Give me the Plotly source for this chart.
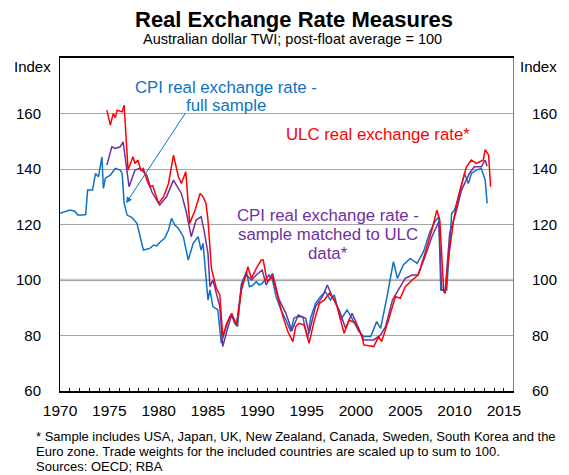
import plotly.graph_objects as go

# ---- data ----
cpi_full_year = [1970.0, 1970.5, 1971.0, 1971.5, 1971.8, 1972.3, 1972.6, 1972.8, 1973.3, 1973.6,
                 1973.9, 1974.25, 1974.4, 1974.6, 1975.1, 1975.6, 1976.1, 1976.3, 1976.5, 1976.8,
                 1977.3, 1977.8, 1978.45, 1979.1, 1979.5, 1979.8, 1980.1, 1980.6, 1981.0, 1981.3,
                 1981.6, 1982.0, 1982.5, 1983.0, 1983.5, 1984.0, 1984.3, 1984.5, 1985.0, 1985.2,
                 1985.5, 1986.0, 1986.35, 1986.7, 1987.2, 1987.4, 1987.7, 1988.0, 1988.4, 1988.9,
                 1989.2, 1989.5, 1989.9, 1990.2, 1990.5, 1991.2, 1991.5, 1991.9, 1992.4, 1992.9,
                 1993.4, 1993.7, 1994.0, 1994.6, 1995.1, 1995.4, 1995.9, 1996.4, 1996.9, 1997.4,
                 1997.8, 1998.45, 1999.1, 1999.6, 2000.3, 2000.8, 2001.5, 2002.1, 2002.5, 2003.15,
                 2003.8, 2004.2, 2004.8, 2005.5, 2006.2, 2006.85, 2007.5, 2008.0, 2008.4, 2008.6,
                 2009.2, 2009.7, 2010.0, 2010.5, 2011.0, 2011.4, 2011.7, 2012.2, 2012.7, 2013.1,
                 2013.3]
cpi_full = [124.0, 124.6, 125.2, 124.8, 123.4, 123.4, 123.6, 132.4, 132.4, 138.4,
            137.2, 144.4, 133.0, 136.7, 137.8, 140.2, 139.6, 138.5, 127.7, 123.4,
            122.5, 120.4, 110.8, 111.4, 112.6, 112.3, 113.5, 115.0, 118.0, 122.2,
            120.0, 118.6, 115.6, 107.2, 113.2, 115.6, 110.8, 113.2, 92.8, 96.4,
            90.4, 89.2, 77.2, 81.4, 86.8, 87.4, 84.4, 83.2, 98.8, 103.0,
            97.6, 98.0, 99.4, 98.2, 98.8, 101.8, 100.6, 94.0, 89.2, 85.6,
            81.4, 86.2, 86.8, 86.8, 79.0, 86.2, 91.6, 94.0, 95.8, 92.8,
            94.6, 85.6, 89.2, 86.2, 81.4, 79.6, 79.6, 85.0, 82.6, 94.0,
            106.6, 100.6, 105.4, 107.8, 106.0, 110.2, 117.4, 121.0, 122.8, 96.4,
            96.4, 124.0, 125.2, 131.2, 138.4, 134.8, 138.4, 139.6, 140.2, 136.0,
            127.6]

ulc_year = [1974.75, 1975.1, 1975.4, 1975.6, 1975.8, 1976.3, 1976.5, 1976.9, 1977.4, 1977.6,
            1977.9, 1978.2, 1978.45, 1978.8, 1979.1, 1979.4, 1979.6, 1980.0, 1980.5, 1981.0,
            1981.5, 1982.0, 1982.3, 1982.75, 1983.15, 1983.7, 1984.2, 1984.5, 1984.8, 1985.0,
            1985.35, 1985.85, 1986.2, 1986.5, 1986.9, 1987.4, 1987.9, 1988.4, 1989.05, 1989.4,
            1989.9, 1990.4, 1990.6, 1991.0, 1991.55, 1992.05, 1992.6, 1993.1, 1993.6, 1993.9,
            1994.2, 1994.75, 1995.25, 1995.75, 1996.3, 1996.8, 1997.3, 1997.8, 1998.1, 1998.8,
            1999.3, 2000.0, 2000.6, 2000.8, 2001.8, 2002.3, 2002.6, 2003.3, 2004.0, 2004.5,
            2005.0, 2005.7, 2006.3, 2007.0, 2007.7, 2008.2, 2008.5, 2008.9, 2009.05, 2009.4,
            2009.9, 2010.4, 2010.8, 2011.2, 2011.7, 2012.2, 2012.55, 2012.9, 2013.1, 2013.45,
            2013.65]
ulc = [161.2, 155.8, 160.0, 158.5, 161.2, 160.6, 163.0, 139.6, 144.4, 142.0,
       143.2, 139.5, 140.2, 136.0, 133.6, 134.0, 131.8, 127.6, 130.0, 134.8,
       145.0, 137.2, 134.8, 139.0, 120.4, 125.2, 131.2, 130.0, 127.6, 121.6,
       104.2, 97.0, 94.6, 79.6, 84.4, 88.0, 83.8, 96.4, 104.8, 100.6,
       104.2, 107.2, 107.2, 99.5, 101.2, 94.0, 86.8, 81.4, 77.8, 83.2,
       84.4, 83.8, 77.2, 85.0, 91.6, 92.8, 95.2, 92.8, 90.4, 80.8,
       85.6, 84.4, 79.6, 76.6, 76.0, 79.6, 77.8, 85.6, 94.0, 93.4,
       97.6, 100.0, 101.8, 109.6, 118.0, 125.2, 121.6, 95.8, 95.2, 108.4,
       121.6, 130.5, 136.0, 140.8, 143.2, 142.0, 142.6, 143.2, 147.0, 145.0,
       133.6]

cpi_matched_year = [1974.75, 1975.25, 1975.6, 1976.1, 1976.4, 1977.0, 1977.6, 1978.1, 1978.8, 1979.3,
                    1980.1, 1980.8, 1981.5, 1982.3, 1982.8, 1983.3, 1983.8, 1984.3, 1984.6, 1985.0,
                    1985.2, 1985.5, 1986.2, 1986.5, 1986.9, 1987.4, 1987.9, 1988.4, 1988.9, 1989.4,
                    1989.9, 1990.5, 1990.9, 1991.55, 1992.2, 1992.9, 1993.5, 1994.15, 1994.9, 1995.25,
                    1995.9, 1996.6, 1997.1, 1997.6, 1998.3, 1998.95, 1999.6, 2000.3, 2000.8, 2001.8,
                    2002.5, 2003.0, 2003.7, 2004.3, 2005.0, 2005.7, 2006.3, 2007.0, 2007.7, 2008.4,
                    2008.7, 2009.05, 2009.5, 2010.2, 2010.7, 2011.5, 2012.0, 2012.7, 2013.1, 2013.3]
cpi_matched = [141.4, 148.0, 147.4, 148.0, 149.8, 133.6, 139.6, 140.2, 137.8, 131.8,
               127.0, 130.0, 136.0, 131.2, 124.6, 115.6, 121.6, 122.8, 118.0, 109.6,
               97.6, 100.0, 90.4, 76.0, 81.4, 87.4, 83.8, 98.2, 101.8, 100.0,
               101.8, 103.6, 98.2, 102.4, 93.0, 88.0, 81.7, 87.4, 86.2, 80.8,
               90.4, 94.0, 98.2, 94.0, 89.2, 82.6, 88.0, 82.0, 78.4, 78.4,
               80.2, 83.2, 92.8, 96.4, 100.6, 101.8, 101.8, 108.4, 115.6, 121.0,
               96.4, 96.4, 116.8, 125.2, 132.4, 138.4, 140.8, 140.8, 143.2, 141.0]

year_ticks = list(range(1970, 2016, 5))
index_ticks = [60, 80, 100, 120, 140, 160]

BLUE = "#0e72c4"
RED = "#ff0000"
PURPLE = "#7030a0"
FONT = "Liberation Sans, Arial, sans-serif"

# plot area in pixels
W, H = 569, 475
L, R, T, B = 60, 54, 58, 84
PW, PH = W - L - R, H - T - B


def px(x):
    return (x - L) / PW


def py(y):
    return (H - B - y) / PH


fig = go.Figure()
fig.add_trace(go.Scatter(x=cpi_full_year, y=cpi_full, mode="lines", name="CPI full",
                         line=dict(color=BLUE, width=1.5)))
fig.add_trace(go.Scatter(x=cpi_matched_year, y=cpi_matched, mode="lines", name="CPI matched",
                         line=dict(color=PURPLE, width=1.5)))
fig.add_trace(go.Scatter(x=ulc_year, y=ulc, mode="lines", name="ULC", yaxis="y2",
                         line=dict(color=RED, width=1.5)))

# thicker line at the post-float average
fig.add_shape(type="line", xref="paper", x0=0, x1=1, yref="y", y0=100, y1=100,
              line=dict(color="#c8c8c8", width=2.5), layer="below")

annotations = [
    dict(text="<b>Real Exchange Rate Measures</b>", x=px(295), y=py(19),
         font=dict(size=22, color="black")),
    dict(text="Australian dollar TWI; post-float average = 100", x=px(294), y=py(39),
         font=dict(size=14.5, color="black")),
    dict(text="Index", x=px(32), y=py(66), font=dict(size=15, color="black")),
    dict(text="Index", x=px(541), y=py(66), font=dict(size=15, color="black")),
    dict(text="CPI real exchange rate -", x=px(227), y=py(87), font=dict(size=16.8, color=BLUE)),
    dict(text="full sample", x=px(227), y=py(105), font=dict(size=16.8, color=BLUE)),
    dict(text="ULC real exchange rate*", x=px(379), y=py(134), font=dict(size=16.8, color=RED)),
    dict(text="CPI real exchange rate -", x=px(329), y=py(215), font=dict(size=16.8, color=PURPLE)),
    dict(text="sample matched to ULC", x=px(329), y=py(234), font=dict(size=16.8, color=PURPLE)),
    dict(text="data*", x=px(329), y=py(253), font=dict(size=16.8, color=PURPLE)),
]
foot = ["* Sample includes USA, Japan, UK, New Zealand, Canada, Sweden, South Korea and the",
        "Euro zone. Trade weights for the included countries are scaled up to sum to 100.",
        "Sources: OECD; RBA"]
for i, line in enumerate(foot):
    annotations.append(dict(text=line, x=px(34), y=py(436 + 15 * i), xanchor="left",
                            font=dict(size=13, color="black")))
for a in annotations:
    a.update(xref="paper", yref="paper", showarrow=False)
    a.setdefault("xanchor", "center")
    a.setdefault("yanchor", "middle")

# arrow pointing at the full-sample CPI line
annotations.append(dict(x=1976.7, y=127.7, xref="x", yref="y", ax=1982.8, ay=160.6,
                        axref="x", ayref="y", text="", showarrow=True, arrowhead=2,
                        arrowsize=1.2, arrowwidth=1, arrowcolor=BLUE))

fig.update_layout(
    width=W, height=H, autosize=False,
    margin=dict(l=L, r=R, t=T, b=B, pad=0),
    paper_bgcolor="white", plot_bgcolor="white",
    font=dict(family=FONT, size=15, color="black"),
    showlegend=False,
    annotations=annotations,
    xaxis=dict(range=[1970, 2015.92], tickvals=year_ticks, ticks="inside", ticklen=3,
               tickcolor="black", minor=dict(dtick=1, tick0=1970, ticks="inside", ticklen=3,
                                             tickcolor="black"),
               showline=True, linecolor="black", linewidth=1.5, mirror=True,
               showgrid=False, zeroline=False, tickfont=dict(size=15.5), ticklabelstandoff=5),
    yaxis=dict(range=[60, 180], tickvals=index_ticks, ticks="", showline=True,
               linecolor="black", linewidth=1, showgrid=True, gridcolor="#a6a6a6",
               gridwidth=1, zeroline=False, tickfont=dict(size=15), ticklabelstandoff=15),
    yaxis2=dict(range=[60, 180], tickvals=index_ticks, ticks="", overlaying="y", side="right",
                showline=True, linecolor="#808080", linewidth=1, showgrid=False,
                zeroline=False, tickfont=dict(size=15), ticklabelstandoff=15),
)

# the page's default body margin would shift the chart; remove it
fig.write_html("out.html", config={"displayModeBar": False},
               post_script="document.body.style.margin='0px';")
